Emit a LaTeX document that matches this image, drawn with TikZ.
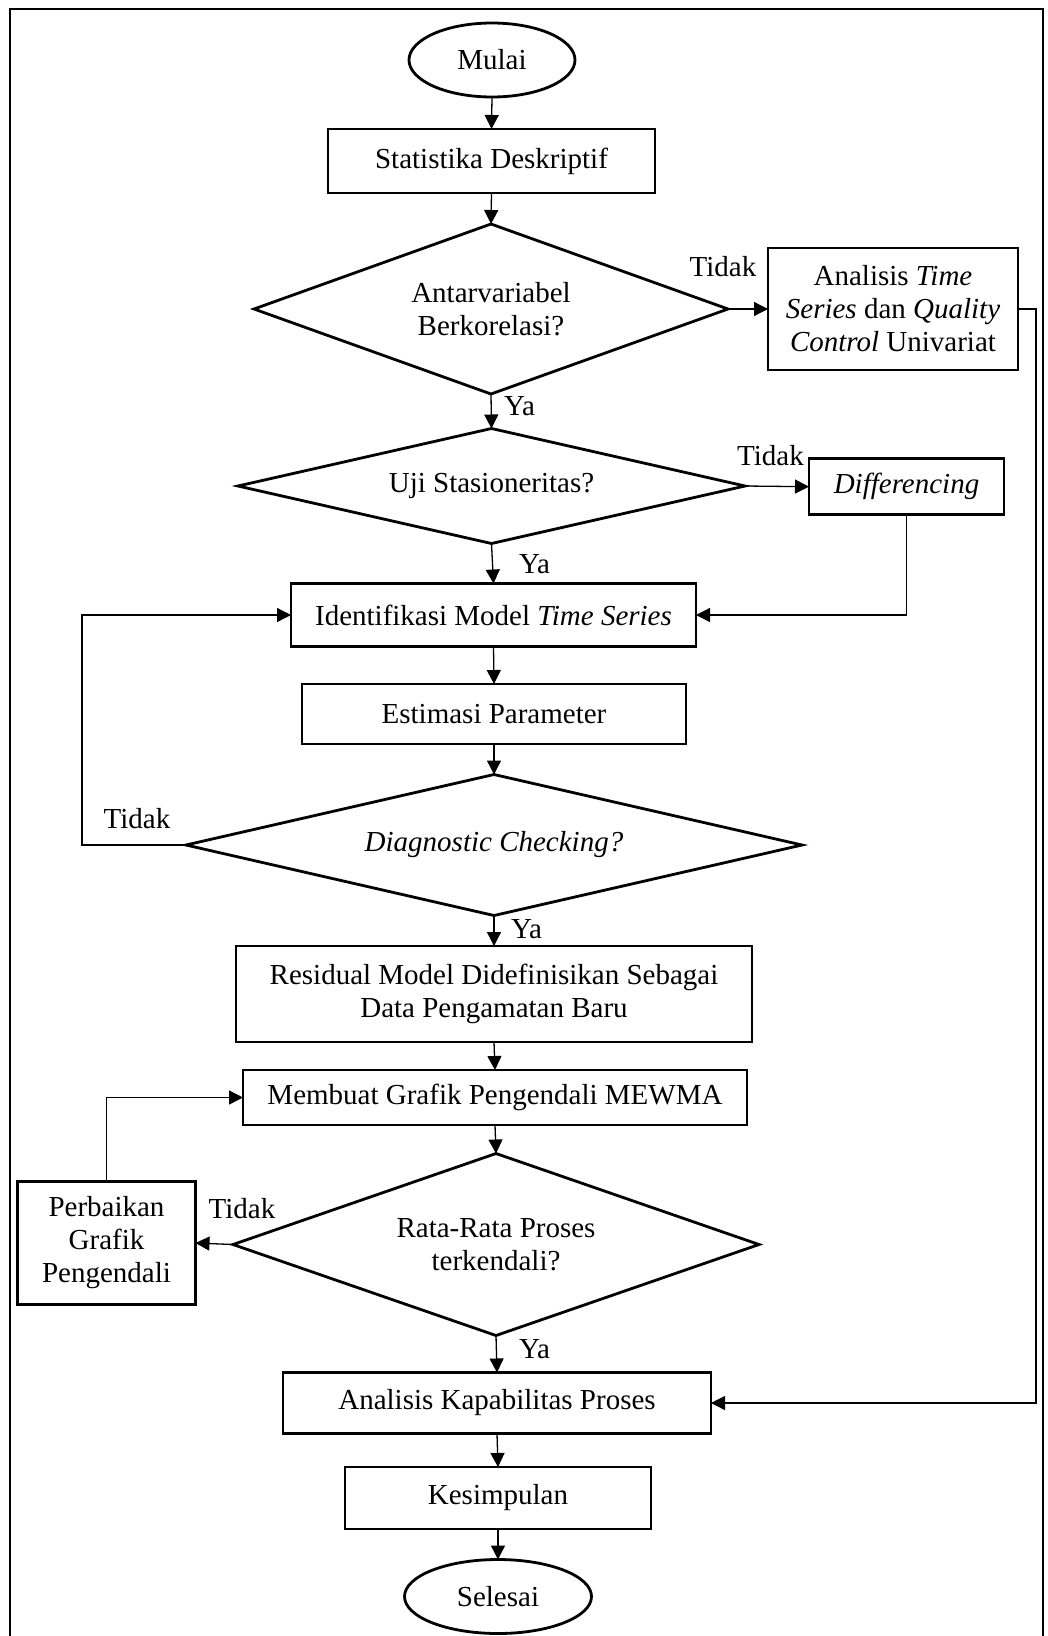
\documentclass[tikz,border=0pt]{standalone}
\usepackage{fontspec}
\setmainfont{Liberation Serif}
\usetikzlibrary{shapes.geometric,arrows.meta}
\begin{document}
\begin{tikzpicture}[x=1pt,y=-1pt,
  every node/.style={font=\fontsize{29}{33}\selectfont},
  box/.style={draw,line width=2.8pt,rectangle,inner sep=2pt,align=center,outer sep=0pt},
  term/.style={draw,line width=2.8pt,ellipse,inner sep=0pt,outer sep=0pt},
  dec/.style={draw,line width=2.8pt,diamond,inner sep=0pt,outer sep=0pt,align=center},
  conn/.style={line width=1.3pt,-{Triangle[length=14pt,width=14pt]}},
  lbl/.style={inner sep=0pt}
]
\useasboundingbox (0,0) rectangle (1048,1636);
\draw[line width=2.2pt] (10,9) rectangle (1043,1645);

\node[term,minimum width=166pt,minimum height=74pt] (mulai) at (492,60) {Mulai};
\node[box,minimum width=327pt,minimum height=64pt] (stat) at (491.5,161) {Statistika Deskriptif};
\node[dec,minimum width=474pt,minimum height=170pt,aspect=2.79] (d1) at (491,309) {Antarvariabel\\Berkorelasi?};
\node[box,minimum width=250pt,minimum height=122pt] (ats) at (893,309) {Analisis \textit{Time}\\\textit{Series} dan \textit{Quality}\\\textit{Control} Univariat};
\node[dec,minimum width=507pt,minimum height=115pt,aspect=4.4] (d2) at (491.5,486) {Uji Stasioneritas?};
\node[box,minimum width=195pt,minimum height=56pt] (diff) at (906.5,486.7) {\textit{Differencing}};
\node[box,minimum width=405pt,minimum height=63pt] (ident) at (493.5,615) {Identifikasi Model \textit{Time Series}};
\node[box,minimum width=384pt,minimum height=60pt] (estim) at (494,714) {Estimasi Parameter};
\node[dec,minimum width=616pt,minimum height=141pt,aspect=4.37] (d3) at (494,845) {\textit{Diagnostic Checking?}};
\node[box,minimum width=516pt,minimum height=96pt] (resid) at (494,994) {Residual Model Didefinisikan Sebagai\\Data Pengamatan Baru};
\node[box,minimum width=504pt,minimum height=55pt] (mewma) at (495,1097.5) {Membuat Grafik Pengendali MEWMA};
\node[dec,minimum width=526pt,minimum height=182pt,aspect=2.89] (d4) at (496,1244.5) {Rata-Rata Proses\\terkendali?};
\node[box,minimum width=178pt,minimum height=123pt] (perb) at (106.5,1243) {Perbaikan\\Grafik\\Pengendali};
\node[box,minimum width=428pt,minimum height=61pt] (ak) at (497,1403) {Analisis Kapabilitas Proses};
\node[box,minimum width=306pt,minimum height=62pt] (kes) at (498,1498) {Kesimpulan};
\node[term,minimum width=187pt,minimum height=74pt] (selesai) at (498,1596.5) {Selesai};

% labels
\node[lbl] (t1) at (723,267) {Tidak};
\node[lbl] (t2) at (770.5,456) {Tidak};
\node[lbl] (t3) at (137,819) {Tidak};
\node[lbl] (t4) at (242,1209) {Tidak};
\node[lbl,anchor=west] (y1) at (504,406) {Ya};
\node[lbl,anchor=west] (y2) at (519,564) {Ya};
\node[lbl,anchor=west] (y3) at (511,929) {Ya};
\node[lbl,anchor=west] (y4) at (519,1349.5) {Ya};

% connectors
\draw[conn] (mulai.south) -- (stat.north);
\draw[conn] (stat.south) -- (d1.north);
\draw[conn] (d1.east) -- (ats.west);
\draw[conn] (ats.east) -- ++(18,0) |- (ak.east);
\draw[conn] (d1.south) -- (d2.north);
\draw[conn] (d2.east) -- (diff.west);
\draw[conn] (diff.south) |- (ident.east);
\draw[conn] (d2.south) -- (ident.north);
\draw[conn] (ident.south) -- (estim.north);
\draw[conn] (estim.south) -- (d3.north);
\draw[conn] (d3.west) -- ++(-104,0) |- (ident.west);
\draw[conn] (d3.south) -- (resid.north);
\draw[conn] (resid.south) -- (mewma.north);
\draw[conn] (mewma.south) -- (d4.north);
\draw[conn] (d4.west) -- (perb.east);
\draw[conn] (perb.north) |- (mewma.west);
\draw[conn] (d4.south) -- (ak.north);
\draw[conn] (ak.south) -- (kes.north);
\draw[conn] (kes.south) -- (selesai.north);
\end{tikzpicture}
\end{document}
